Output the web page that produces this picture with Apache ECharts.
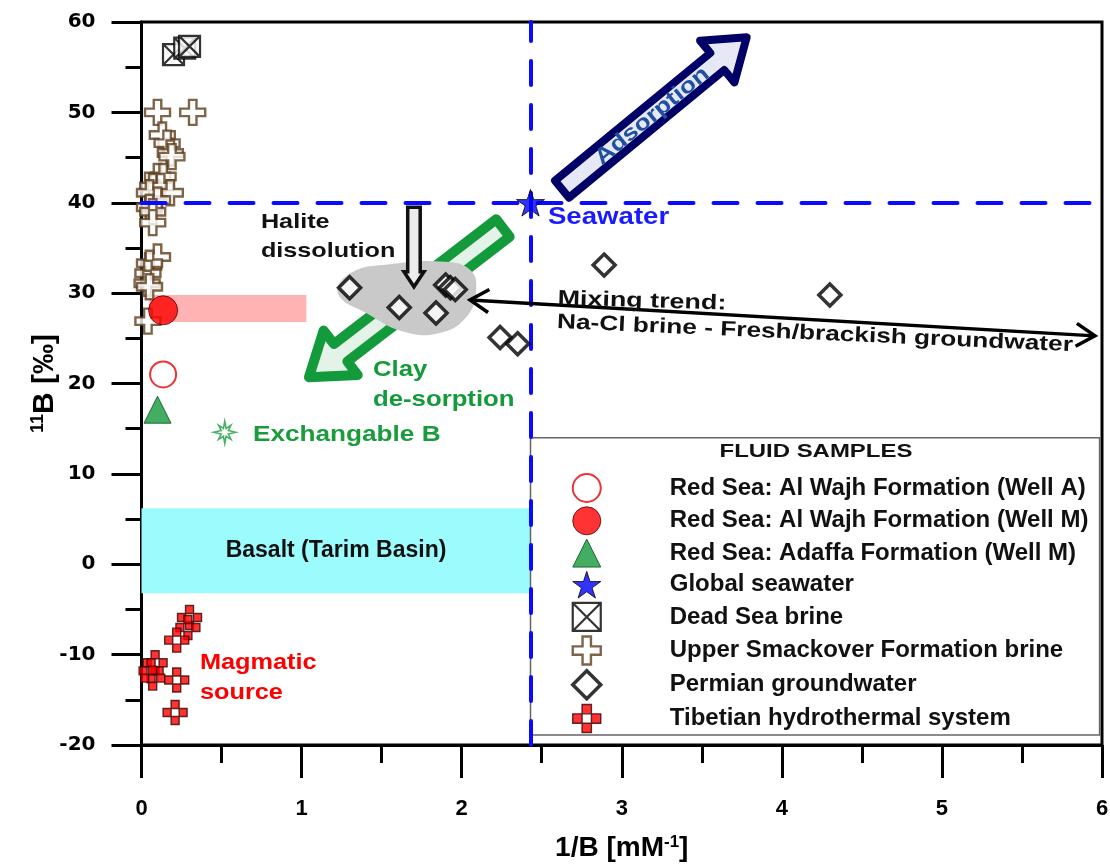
<!DOCTYPE html>
<html><head><meta charset="utf-8">
<script src="https://cdn.jsdelivr.net/npm/echarts@6/dist/echarts.min.js"></script>
<style>html,body{margin:0;padding:0;background:#fff}#c{width:1110px;height:865px}</style>
</head><body><div id="c"></div>
<script>
// ---------------- data ----------------
const xRange = [0, 6];
const yRange = [-20, 60];
const legendNames = [
  'Red Sea: Al Wajh Formation (Well A)',
  'Red Sea: Al Wajh Formation (Well M)',
  'Red Sea: Adaffa Formation (Well M)',
  'Global seawater',
  'Dead Sea brine',
  'Upper Smackover Formation brine',
  'Permian groundwater',
  'Tibetian hydrothermal system'
];
const wellA = [[0.135, 21.0]];
const wellM = [[0.135, 28.1]];
const adaffa = [[0.10, 17.1]];
const seawater = [[2.43, 40.0]];
const deadSea = [[0.20, 56.4], [0.27, 57.1], [0.30, 57.3]];
const smackover = [[0.10, 50.0], [0.32, 50.0], [0.13, 47.5], [0.16, 46.6], [0.18, 45.5], [0.19, 45.1],
  [0.10, 42.9], [0.135, 42.9], [0.07, 41.8], [0.12, 41.8], [0.18, 41.1], [0.05, 41.1], [0.10, 40.3],
  [0.05, 39.5], [0.07, 39.0], [0.07, 37.8], [0.10, 34.0], [0.05, 33.3], [0.04, 32.2], [0.035, 31.1],
  [0.05, 30.7], [0.04, 26.9]];
const permian = [[1.30, 30.6], [1.61, 28.4], [1.84, 27.8], [1.90, 30.9], [1.93, 30.6], [1.96, 30.4],
  [2.24, 25.1], [2.35, 24.4], [2.89, 33.1], [4.30, 29.8]];
const tibet = [[0.30, -5.9], [0.29, -7.0], [0.22, -8.4], [0.085, -10.9], [0.06, -11.8], [0.07, -12.6],
  [0.22, -12.8], [0.21, -16.4]];
const exchangeable = [[0.52, 14.6]];
const seawaterRef = { x: 2.43, y: 40 };
const pinkBandX = [0.05, 1.03], pinkBandY = [26.8, 29.8];
const basaltX = [0, 2.43], basaltY = [-3.2, 6.2];

// ---------------- annotation geometry (data coords) ----------------
const adsorptionArrow = { from: [2.627, 41.5], to: [3.78, 58.3] };
const clayArrow = { from: [2.258, 37.2], to: [1.046, 20.7] };
const haliteArrow = { from: [1.702, 39.5], to: [1.702, 30.7] };
const mixingArrow = { from: [2.052, 29.25], to: [5.956, 25.27] };
const blobOutline = [[1.227, 30.0], [1.315, 32.3], [1.552, 33.2], [1.864, 33.5], [2.052, 32.6],
  [2.089, 30.1], [2.027, 27.3], [1.864, 25.6], [1.646, 25.7], [1.415, 27.7]];
const legendBox = { x: [2.43, 5.985], y: [-18.9, 14.0] };

const FONT = '"Liberation Sans", Arial, sans-serif';
const starPath = 'path://M50,0L61.17,34.63L97.55,34.55L68.07,55.87L79.39,90.45L50,69L20.61,90.45L31.93,55.87L2.45,34.55L38.83,34.63Z';
const burstPath = 'path://M50,0L56,32L78,18L66,42L100,50L66,58L78,82L56,68L50,100L44,68L22,82L34,58L0,50L34,42L22,18L44,32Z';
const boxXPath = 'path://M0,0L20,0L20,20L0,20Z M0,0L20,20 M20,0L0,20';
const plusPath = 'path://M7,0L13,0L13,7L20,7L20,13L13,13L13,20L7,20L7,13L0,13L0,7L7,7Z';
const checkPlusPath = 'path://M10,0L20,0L20,10L10,10Z M0,10L10,10L10,20L0,20Z M20,10L30,10L30,20L20,20Z M10,20L20,20L20,30L10,30Z';

const chart = echarts.init(document.getElementById('c'));

function sc(name, data, symbol, size, itemStyle, extra) {
  return Object.assign({ type: 'scatter', name, data, symbol, symbolSize: size, itemStyle, z: 10,
    symbolKeepAspect: true, silent: true }, extra || {});
}
const styles = [
  { color: '#fff', borderColor: '#e60000', borderWidth: 2 },
  { color: '#ff0000', borderColor: '#550000', borderWidth: 1 },
  { color: '#149a3a', borderColor: '#064d1a', borderWidth: 1 },
  { color: '#0000ff', borderColor: '#000', borderWidth: 1 },
  { color: '#fff', borderColor: '#000', borderWidth: 2.2 },
  { color: '#fff', borderColor: '#5e3d1c', borderWidth: 2.4 },
  { color: '#fff', borderColor: '#000', borderWidth: 3.5 },
  { color: '#ff0000', borderColor: '#3a0000', borderWidth: 1.4 }
];

const axisLineStyle = { color: '#000', width: 3 };
const option = {
  animation: false,
  backgroundColor: '#fff',
  grid: { left: 141.5, right: 8, top: 22, bottom: 120, outerBoundsMode: 'none', containLabel: false,
    show: true, borderColor: '#000', borderWidth: 3, backgroundColor: 'transparent' },
  xAxis: {
    type: 'value', min: xRange[0], max: xRange[1], interval: 1,
    axisLine: { show: true, onZero: false, lineStyle: axisLineStyle },
    axisTick: { show: true, length: 33, lineStyle: axisLineStyle },
    minorTick: { show: true, splitNumber: 2, length: 18, lineStyle: axisLineStyle },
    splitLine: { show: false },
    axisLabel: { margin: 53, fontSize: 22, fontWeight: 'bold', color: '#000', fontFamily: '"Liberation Sans Narrow", ' + FONT },
    name: '{a|1/B [mM}{s|-1}{a|]}', nameLocation: 'middle', nameGap: 89, nameMoveOverlap: false,
    nameTextStyle: { rich: {
      a: { fontSize: 28, fontWeight: 'bold', color: '#000', fontFamily: '"Liberation Sans Narrow", ' + FONT },
      s: { fontSize: 17, fontWeight: 'bold', color: '#000', fontFamily: '"Liberation Sans Narrow", ' + FONT, verticalAlign: 'top', padding: [0, 0, 10, 0] }
    } }
  },
  yAxis: {
    type: 'value', min: yRange[0], max: yRange[1], interval: 10,
    axisLine: { show: true, onZero: false, lineStyle: axisLineStyle },
    axisTick: { show: true, length: 30, lineStyle: axisLineStyle },
    minorTick: { show: true, splitNumber: 2, length: 16, lineStyle: axisLineStyle },
    splitLine: { show: false },
    axisLabel: { margin: 46, fontSize: 20, fontWeight: 'bold', color: '#000', fontFamily: '"DejaVu Sans", ' + FONT },
    name: '{s|11}{a|B [‰]}', nameLocation: 'middle', nameGap: 82, nameRotate: 90, nameMoveOverlap: false,
    nameTextStyle: { rich: {
      a: { fontSize: 30, fontWeight: 'bold', color: '#000', fontFamily: FONT },
      s: { fontSize: 18, fontWeight: 'bold', color: '#000', fontFamily: FONT, verticalAlign: 'top', padding: [0, 0, 12, 0] }
    } }
  },
  legend: {
    data: legendNames.map((n, i) => ({ name: n, itemStyle: styles[i] })),
    orient: 'vertical', left: 571, top: 473, padding: 0,
    itemWidth: 28, itemHeight: 28, itemGap: 3.3, selectedMode: false,
    textStyle: { fontSize: 24, fontWeight: 'bold', color: '#111', fontFamily: FONT, padding: [0, 0, 0, 64] }
  },
  series: [
    { type: 'scatter', name: '_areas', data: [], silent: true, z: 1,
      markArea: { silent: true, z: 1, label: { show: false }, data: [
        [{ coord: [pinkBandX[0], pinkBandY[0]], itemStyle: { color: '#ffb3b3' } }, { coord: [pinkBandX[1], pinkBandY[1]] }],
        [{ name: 'Basalt (Tarim Basin)', coord: [basaltX[0], basaltY[0]], itemStyle: { color: '#9cfbfd' },
           label: { show: true, position: 'inside', color: '#111', fontSize: 23, fontWeight: 'bold', fontFamily: FONT } },
         { coord: [basaltX[1], basaltY[1]] }],
        [{ coord: [legendBox.x[0], legendBox.y[0]], itemStyle: { color: '#fff', borderColor: '#666', borderWidth: 1.5 } },
         { coord: [legendBox.x[1], legendBox.y[1]] }]
      ] } },
    { type: 'scatter', name: '_lines', data: [], silent: true, z: 5,
      markLine: { silent: true, z: 5, symbol: ['none', 'none'], label: { show: false },
        lineStyle: { color: '#0a0aff', width: 4, type: [24, 20], cap: 'round' },
        data: [{ xAxis: seawaterRef.x }, { yAxis: seawaterRef.y }] } },
    sc('Exchangable B', exchangeable, burstPath, 22, { color: '#fff', borderColor: '#1a9c3c', borderWidth: 1.6 }),
    sc(legendNames[0], wellA, 'circle', 26, styles[0]),
    sc(legendNames[1], wellM, 'circle', 29, styles[1]),
    sc(legendNames[2], adaffa, 'triangle', 27, styles[2]),
    sc(legendNames[3], seawater, starPath, 28, styles[3]),
    sc(legendNames[4], deadSea, boxXPath, 21, styles[4]),
    sc(legendNames[5], smackover, plusPath, 25, styles[5], { z: 4 }),
    sc(legendNames[6], permian, 'diamond', 22, styles[6]),
    sc(legendNames[7], tibet, checkPlusPath, 24, styles[7])
  ]
};
chart.setOption(option);

// ---------------- annotations (converted through the axes) ----------------
const P = p => chart.convertToPixel({ gridIndex: 0 }, p);
function arrowPoly(a, b, sw, hw, hl) {
  const [x0, y0] = P(a), [x1, y1] = P(b);
  const dx = x1 - x0, dy = y1 - y0, L = Math.hypot(dx, dy), ux = dx / L, uy = dy / L, nx = -uy, ny = ux;
  const bx = x1 - ux * hl, by = y1 - uy * hl;
  return [[x0 + nx * sw / 2, y0 + ny * sw / 2], [bx + nx * sw / 2, by + ny * sw / 2], [bx + nx * hw / 2, by + ny * hw / 2],
    [x1, y1], [bx - nx * hw / 2, by - ny * hw / 2], [bx - nx * sw / 2, by - ny * sw / 2], [x0 - nx * sw / 2, y0 - ny * sw / 2]];
}
function angleOf(a, b) { const [x0, y0] = P(a), [x1, y1] = P(b); return Math.atan2(-(y1 - y0), x1 - x0); }
function vHead(tip, other, len, ang) {
  const [tx, ty] = P(tip), [ox, oy] = P(other);
  const L = Math.hypot(ox - tx, oy - ty), ux = (ox - tx) / L, uy = (oy - ty) / L;
  const r = (c, s) => [tx + len * (ux * c - uy * s), ty + len * (ux * s + uy * c)];
  return [r(Math.cos(ang), Math.sin(ang)), [tx, ty], r(Math.cos(-ang), Math.sin(-ang))];
}
function txt(anchor, text, color, size, opt) {
  opt = opt || {};
  const [x, y] = P(anchor);
  return { type: 'text', x, y, z: 30, rotation: opt.rot || 0, scaleX: opt.sx || 1.15, silent: true,
    style: { text, fill: color, font: 'bold ' + size + 'px ' + FONT, align: opt.align || 'left', verticalAlign: 'middle' } };
}
const g = [];
g.push({ type: 'polygon', z: 3, silent: true, shape: { points: arrowPoly(clayArrow.from, clayArrow.to, 22, 56, 40) },
  style: { fill: '#e4f3e7', stroke: '#139a3b', lineWidth: 10, lineJoin: 'round' } });
g.push({ type: 'polygon', z: 3, silent: true, shape: { points: arrowPoly(adsorptionArrow.from, adsorptionArrow.to, 22, 54, 38) },
  style: { fill: '#e6e9f5', stroke: '#000066', lineWidth: 8, lineJoin: 'round' } });
g.push({ type: 'polygon', z: 4, silent: true, shape: { points: blobOutline.map(P), smooth: 0.45 },
  style: { fill: '#c9c9c9' } });
g.push({ type: 'polygon', z: 6, silent: true, shape: { points: arrowPoly(haliteArrow.from, haliteArrow.to, 12.5, 20, 15) },
  style: { fill: '#ececec', stroke: '#111', lineWidth: 3.5, lineJoin: 'miter' } });
g.push({ type: 'line', z: 6, silent: true, shape: (() => { const a = P(mixingArrow.from), b = P(mixingArrow.to); return { x1: a[0], y1: a[1], x2: b[0], y2: b[1] }; })(),
  style: { stroke: '#000', lineWidth: 3.5 } });
g.push({ type: 'polyline', z: 6, silent: true, shape: { points: vHead(mixingArrow.from, mixingArrow.to, 22, 0.55) },
  style: { stroke: '#000', lineWidth: 3.5, fill: null } });
g.push({ type: 'polyline', z: 6, silent: true, shape: { points: vHead(mixingArrow.to, mixingArrow.from, 22, 0.55) },
  style: { stroke: '#000', lineWidth: 3.5, fill: null } });

const adsAng = angleOf(adsorptionArrow.from, adsorptionArrow.to);
g.push(txt([3.19, 49.6], 'Adsorption', '#1f4fa0', 22, { align: 'center', rot: adsAng, sx: 1.2 }));
g.push(txt([0.746, 37.9], 'Halite', '#111', 21, { sx: 1.2 }));
g.push(txt([0.746, 34.6], 'dissolution', '#111', 21, { sx: 1.2 }));
g.push(txt([2.539, 38.3], 'Seawater', '#1a1aff', 23, { sx: 1.2 }));
g.push(txt([3.126, 29.1], 'Mixing trend:', '#111', 21, { align: 'center', rot: -0.03, sx: 1.28 }));
g.push(txt([4.207, 25.5], 'Na-Cl brine - Fresh/brackish groundwater', '#111', 21, { align: 'center', rot: -0.045, sx: 1.25 }));
g.push(txt([1.446, 21.5], 'Clay', '#139a3b', 22, { sx: 1.17 }));
g.push(txt([1.446, 18.2], 'de-sorption', '#139a3b', 22, { sx: 1.17 }));
g.push(txt([0.696, 14.3], 'Exchangable B', '#1a9c3c', 22, { sx: 1.19 }));
g.push(txt([0.365, -10.9], 'Magmatic', '#ff0000', 22, { sx: 1.15 }));
g.push(txt([0.365, -14.2], 'source', '#ff0000', 22, { sx: 1.15 }));
g.push(txt([4.213, 12.4], 'FLUID SAMPLES', '#111', 19, { align: 'center', sx: 1.26 }));
chart.setOption({ graphic: g });
</script>
</body></html>
